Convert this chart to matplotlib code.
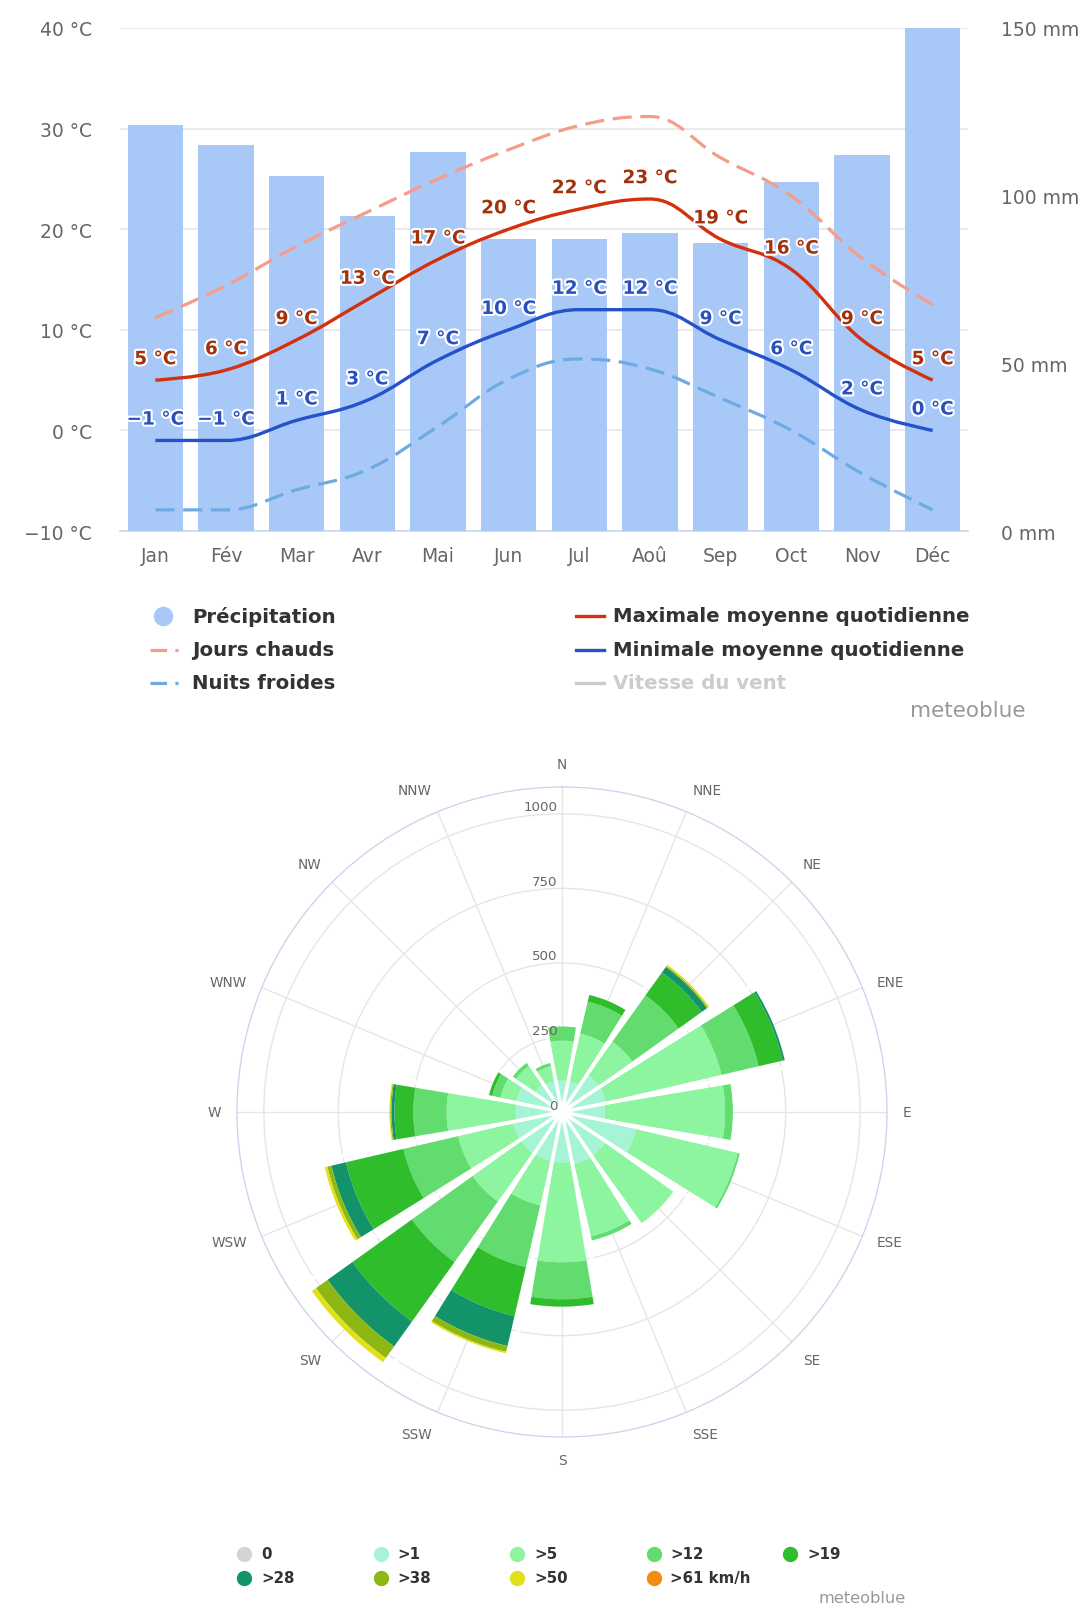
import numpy as np
import matplotlib
matplotlib.use('Agg')
import matplotlib.pyplot as plt
from matplotlib.path import Path
from matplotlib.patches import PathPatch
from matplotlib.lines import Line2D
import matplotlib.patheffects as pe

plt.rcParams['font.family'] = ['DejaVu Sans']

# --- climate data -------------------------------------------------------
months = ['Jan', 'Fév', 'Mar', 'Avr', 'Mai', 'Jun', 'Jul', 'Aoû', 'Sep', 'Oct', 'Nov', 'Déc']
precip_mm = [121, 115, 106, 94, 113, 87, 87, 89, 86, 104, 112, 150]
temp_max = [5, 6, 9, 13, 17, 20, 22, 23, 19, 16, 9, 5]
temp_min = [-1, -1, 1, 3, 7, 10, 12, 12, 9, 6, 2, 0]
hot_days = [11.2, 14.4, 18.3, 21.7, 25.0, 27.9, 30.3, 31.2, 27.1, 23.3, 17.1, 12.5]
cold_nights = [-7.9, -7.9, -5.9, -3.9, 0.4, 5.1, 7.1, 6.1, 3.2, 0.0, -4.3, -7.9]

# --- wind rose data (hours per direction, per speed class) ---------------
directions = ['N', 'NNE', 'NE', 'ENE', 'E', 'ESE', 'SE', 'SSE',
              'S', 'SSW', 'SW', 'WSW', 'W', 'WNW', 'NW', 'NNW']
speed_labels = ['0', '>1', '>5', '>12', '>19', '>28', '>38', '>50', '>61 km/h']
speed_colors = ['#d4d4d4', '#a6f4d6', '#8df5a0', '#62dc6f', '#2fbd2c',
                '#12936a', '#8db813', '#e3e018', '#f28c12']
wind_calm = [0] * 16
wind_gt1 = [105, 106, 151, 151, 144, 255, 178, 179, 169, 168, 168, 168, 155, 157, 112, 106]
wind_gt5 = [134, 164, 139, 398, 403, 350, 281, 249, 335, 154, 201, 190, 232, 55, 78, 52]
wind_gt12 = [48, 110, 191, 128, 26, 7, 0, 14, 124, 212, 250, 188, 112, 28, 13, 11]
wind_gt19 = [0, 23, 95, 83, 0, 0, 0, 0, 25, 169, 245, 198, 63, 11, 0, 0]
wind_gt28 = [0, 0, 22, 7, 0, 0, 0, 0, 0, 103, 103, 50, 10, 0, 0, 0]
wind_gt38 = [0, 0, 4, 0, 0, 0, 0, 0, 0, 20, 48, 14, 4, 0, 0, 0]
wind_gt50 = [0, 0, 5, 0, 0, 0, 0, 0, 0, 5, 17, 9, 3, 0, 0, 0]
wind_gt61 = [0] * 16
wind_series = [wind_calm, wind_gt1, wind_gt5, wind_gt12, wind_gt19,
               wind_gt28, wind_gt38, wind_gt50, wind_gt61]

GREY = '#666666'
W, H = 1085, 1608


def fx(px):
    return px / W


def fy(py):
    return 1 - py / H


def hc_spline(xs, ys, smoothing=1.5):
    # bezier path like the highcharts spline series
    n = len(xs)
    left, right = [], []
    for i in range(n):
        x, y = xs[i], ys[i]
        if 0 < i < n - 1:
            lx, ly, nx, ny = xs[i - 1], ys[i - 1], xs[i + 1], ys[i + 1]
            d = smoothing + 1
            lcx, lcy = (smoothing * x + lx) / d, (smoothing * y + ly) / d
            rcx, rcy = (smoothing * x + nx) / d, (smoothing * y + ny) / d
            if rcx != lcx:
                corr = (rcy - lcy) * (rcx - x) / (rcx - lcx) + y - rcy
                lcy += corr
                rcy += corr
            if lcy > max(ly, y):
                lcy = max(ly, y); rcy = 2 * y - lcy
            elif lcy < min(ly, y):
                lcy = min(ly, y); rcy = 2 * y - lcy
            if rcy > max(ny, y):
                rcy = max(ny, y); lcy = 2 * y - rcy
            elif rcy < min(ny, y):
                rcy = min(ny, y); lcy = 2 * y - rcy
            left.append((lcx, lcy)); right.append((rcx, rcy))
        else:
            left.append((x, y)); right.append((x, y))
    verts = [(xs[0], ys[0])]
    codes = [Path.MOVETO]
    for i in range(1, n):
        verts += [right[i - 1], left[i], (xs[i], ys[i])]
        codes += [Path.CURVE4] * 3
    return Path(verts, codes)


def fmt_temp(v):
    return f'{v} °C'.replace('-', '\u2212')


fig = plt.figure(figsize=(W / 100, H / 100), dpi=100)

# --- top chart ------------------------------------------------------------
rect = [fx(120), fy(532), fx(848), 503 / H]
ax = fig.add_axes(rect)
x = np.arange(len(months))
ax.set_xlim(-0.5, 11.5)
ax.set_ylim(-10, 40)
ax.set_yticks(range(-10, 41, 10))
ax.set_yticklabels([fmt_temp(v) for v in range(-10, 41, 10)])
ax.set_xticks(x)
ax.set_xticklabels(months)
ax.tick_params(axis='y', length=0, pad=20, labelsize=13.5, labelcolor=GREY)
ax.tick_params(axis='x', length=0, pad=11, labelsize=13.5, labelcolor=GREY)
ax.yaxis.grid(True, color='#e6e6e6', lw=1.2)
for s in ['top', 'left', 'right']:
    ax.spines[s].set_visible(False)
ax.spines['bottom'].set_color('#ccd6eb')
ax.spines['bottom'].set_linewidth(1.2)

ax_bar = ax.twinx()
ax_bar.set_ylim(0, 150)
ax_bar.set_yticks([0, 50, 100, 150])
ax_bar.set_yticklabels([f'{v} mm' for v in [0, 50, 100, 150]])
ax_bar.tick_params(axis='y', length=0, pad=24, labelsize=13.5, labelcolor=GREY)
ax_bar.bar(x, precip_mm, width=0.78, color='#a8c9f8', zorder=1)
for s in ax_bar.spines.values():
    s.set_visible(False)

ax_line = ax.twinx()
ax_line.set_ylim(-10, 40)
ax_line.set_yticks([])
for s in ax_line.spines.values():
    s.set_visible(False)

dash = (0, (6, 2.7))
ax_line.add_patch(PathPatch(hc_spline(x, hot_days), fill=False, ec='#f59d8a', lw=2.3, ls=dash))
ax_line.add_patch(PathPatch(hc_spline(x, cold_nights), fill=False, ec='#6eaae3', lw=2.3, ls=dash))
ax_line.add_patch(PathPatch(hc_spline(x, temp_max), fill=False, ec='#d3300d', lw=2.4))
ax_line.add_patch(PathPatch(hc_spline(x, temp_min), fill=False, ec='#2552c8', lw=2.4))

outline = [pe.withStroke(linewidth=3, foreground='white')]
for xi, v in zip(x, temp_max):
    ax_line.annotate(fmt_temp(v), (xi, v), xytext=(0, 15), textcoords='offset points',
                     ha='center', va='center', fontsize=13.3, fontweight='bold',
                     color='#a3310c', path_effects=outline)
for xi, v in zip(x, temp_min):
    ax_line.annotate(fmt_temp(v), (xi, v), xytext=(0, 15), textcoords='offset points',
                     ha='center', va='center', fontsize=13.3, fontweight='bold',
                     color='#2a50c0', path_effects=outline)

# legend of top chart
legend_rows = [617, 651, 684]
leg_left = [
    ('Précipitation', '#a8c9f8', None),
    ('Jours chauds', '#f59d8a', (0, (5.2, 2.6))),
    ('Nuits froides', '#6eaae3', (0, (5.2, 2.6))),
]
for (label, col, ls), ry in zip(leg_left, legend_rows):
    if ls is None:
        fig.add_artist(Line2D([fx(163)], [fy(ry)], marker='o', ls='none', color=col,
                              ms=13, transform=fig.transFigure))
    else:
        fig.add_artist(Line2D([fx(150), fx(178)], [fy(ry), fy(ry)], color=col, lw=2.3,
                              ls=ls, transform=fig.transFigure))
    fig.text(fx(192), fy(ry), label, fontsize=14.2, fontweight='bold',
             color='#333333', va='center', ha='left')
leg_right = [
    ('Maximale moyenne quotidienne', '#d3300d', '#333333'),
    ('Minimale moyenne quotidienne', '#2552c8', '#333333'),
    ('Vitesse du vent', '#cccccc', '#cccccc'),
]
for (label, lc, tc), ry in zip(leg_right, legend_rows):
    fig.add_artist(Line2D([fx(576), fx(604)], [fy(ry), fy(ry)], color=lc, lw=2.4,
                          transform=fig.transFigure))
    fig.text(fx(613), fy(ry), label, fontsize=14.2, fontweight='bold',
             color=tc, va='center', ha='left')
fig.text(fx(1026), fy(711), 'meteoblue', fontsize=15.5, color='#999999',
         ha='right', va='center')

# --- wind rose -------------------------------------------------------------
cx, cy, R = 562, 1113, 325
wax = fig.add_axes([fx(cx - R), fy(cy + R), fx(2 * R), 2 * R / H], projection='polar')
wax.set_theta_zero_location('N')
wax.set_theta_direction(-1)
theta = np.deg2rad(np.arange(16) * 22.5)
bottom = np.zeros(16)
for vals, col in zip(wind_series, speed_colors):
    vals = np.array(vals, dtype=float)
    wax.bar(theta, vals, width=np.deg2rad(18.8), bottom=bottom, color=col,
            edgecolor='none', align='center', zorder=2)
    bottom += vals
total = bottom
for k in range(16):
    a = theta[k] + np.deg2rad(11.25)
    wax.plot([a, a], [0, max(total[k], total[(k + 1) % 16])], color='white',
             lw=2.6, solid_capstyle='butt', zorder=3)

rmax = 1090
wax.set_ylim(0, rmax)
wax.set_yticks([250, 500, 750, 1000])
wax.set_yticklabels([])
wax.set_xticks(theta)
wax.set_xticklabels([])
wax.tick_params(axis='x', length=0)
wax.grid(True, color='#e6e6e6', lw=1)
wax.set_axisbelow(True)
wax.spines['polar'].set_edgecolor('#ccd6eb')
wax.spines['polar'].set_linewidth(1)

# direction labels, placed outside the circle like highcharts does
gap = 11.5
for t, name in zip(theta, directions):
    s, c = np.sin(t), np.cos(t)
    ha = 'left' if s > 0.2 else ('right' if s < -0.2 else 'center')
    va = 'bottom' if c > 0.5 else ('top' if c < -0.5 else 'center')
    wax.annotate(name, (t, rmax), xytext=(gap * s, gap * c), textcoords='offset points',
                 ha=ha, va=va, fontsize=9.8, color=GREY, annotation_clip=False)

for v in [0, 250, 500, 750, 1000]:
    wax.annotate(str(v), (0, v), xytext=(-3.5, 5), textcoords='offset points',
                 ha='right', va='center', fontsize=9.6, color=GREY, zorder=5)

# wind legend
for i, (lab, col) in enumerate(zip(speed_labels, speed_colors)):
    col_i, row_i = i % 5, i // 5
    mx = 244 + col_i * 136.5
    my = 1555 + row_i * 24
    fig.add_artist(Line2D([fx(mx)], [fy(my)], marker='o', ls='none', color=col, ms=10,
                          transform=fig.transFigure))
    fig.text(fx(mx + 17), fy(my), lab, fontsize=10.8, fontweight='bold',
             color='#333333', va='center', ha='left')
fig.text(fx(906), fy(1599), 'meteoblue', fontsize=11.7, color='#999999',
         ha='right', va='center')

fig.savefig('out.png', dpi=100, facecolor='white')
